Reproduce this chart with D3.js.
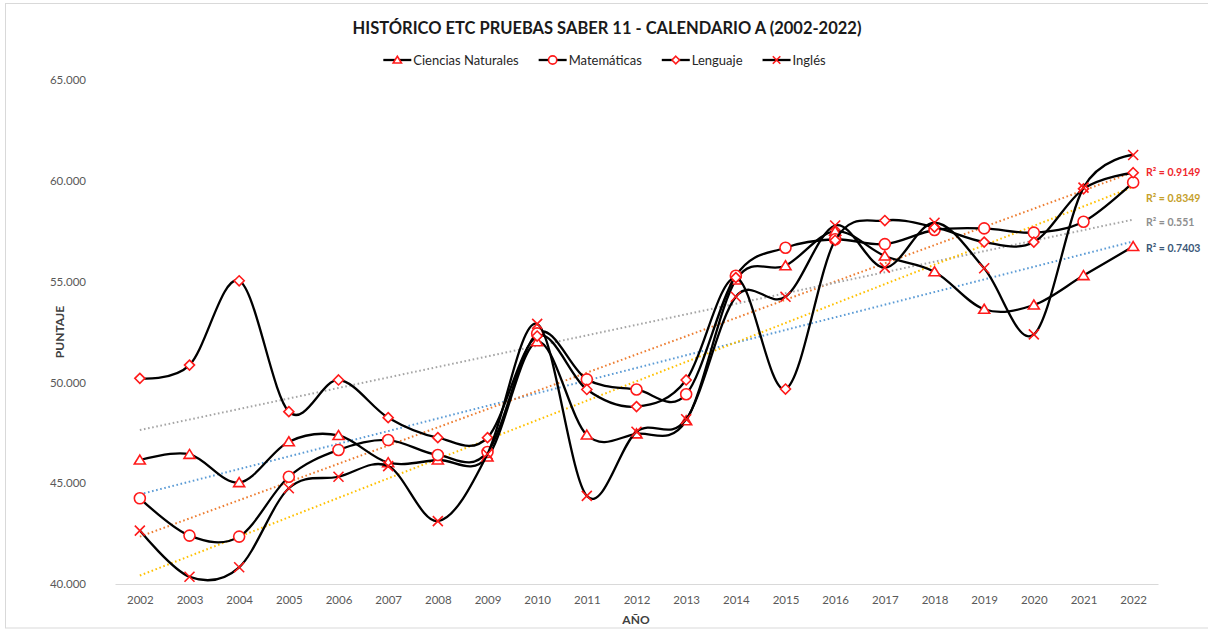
<!DOCTYPE html>
<html><head><meta charset="utf-8">
<script src="https://cdn.jsdelivr.net/npm/d3@7"></script>
<style>
html,body{margin:0;padding:0;background:#fff;}
svg{display:block;font-family:Lato,"Open Sans",sans-serif;}
</style></head>
<body>
<svg id="chart" width="1208" height="632"></svg>
<script>
// ---------- DATA ----------
const years = ["2002","2003","2004","2005","2006","2007","2008","2009","2010","2011","2012","2013","2014","2015","2016","2017","2018","2019","2020","2021","2022"];
const seriesNames = ["Ciencias Naturales","Matemáticas","Lenguaje","Inglés"];
const cienciasNaturales = [46.15,46.43,45.03,47.06,47.37,46.02,46.15,46.30,52.02,47.39,47.45,48.10,55.08,55.79,57.50,56.27,55.49,53.63,53.84,55.30,56.74];
const matematicas       = [44.25,42.40,42.35,45.32,46.65,47.14,46.40,46.55,52.43,50.15,49.65,49.41,55.29,56.68,57.10,56.86,57.56,57.64,57.43,57.97,59.92];
const lenguaje          = [50.20,50.86,55.04,48.55,50.12,48.25,47.26,47.26,52.30,49.65,48.80,50.12,55.20,49.67,57.05,58.03,57.70,56.96,56.96,59.60,60.40];
const ingles            = [42.65,40.36,40.83,44.75,45.32,45.85,43.12,46.45,52.90,44.37,47.55,48.17,54.25,54.25,57.78,55.69,57.92,55.66,52.38,59.66,61.28];
const r2Labels = ["R² = 0.7403","R² = 0.9149","R² = 0.551","R² = 0.8349"];
const yTickValues = [40,45,50,55,60,65];
const yTickLabels = ["40.000","45.000","50.000","55.000","60.000","65.000"];
const titleText = "HISTÓRICO ETC PRUEBAS SABER 11 - CALENDARIO A (2002-2022)";
const xTitle = "AÑO";
const yTitle = "PUNTAJE";

// ---------- STYLE / LAYOUT ----------
const seriesValues = [cienciasNaturales, matematicas, lenguaje, ingles];
const markerTypes = ["triangle","circle","diamond","cross"];
const trendColors = ["#5B9BD5","#ED7D31","#A5A5A5","#FFC000"];
const r2Colors = ["#3B5878","#F0282D","#8E8E8E","#C5A02A"];
const r2LabelY = [249, 173, 223, 199];
const markerRed = "#FF1A1A";

const svg = d3.select("#chart");
svg.append("rect").attr("x",5.5).attr("y",3.5).attr("width",1210).attr("height",624.5)
  .attr("fill","#fff").attr("stroke","#D9D9D9").attr("stroke-width",1);

const x = d3.scalePoint().domain(years).range([115,1158]).padding(0.5);
const y = d3.scaleLinear().domain([40,65]).range([584,80]);

// Title
svg.append("text").attr("x",607).attr("y",34).attr("text-anchor","middle")
  .attr("font-size",16.5).attr("font-weight","bold").attr("fill","#1a1a1a").text(titleText);

// Axes
const xAxis = d3.axisBottom(x).tickSize(0).tickPadding(12);
const gx = svg.append("g").attr("transform","translate(0,584)").call(xAxis);
gx.select(".domain").attr("stroke","#D9D9D9").attr("stroke-width",1.2);
gx.selectAll("text").attr("font-size",11.5).attr("fill","#595959").attr("font-family","Lato");

const yAxis = d3.axisLeft(y).tickValues(yTickValues).tickFormat((d,i)=>yTickLabels[i]).tickSize(0).tickPadding(0);
const gy = svg.append("g").attr("transform","translate(86,0)").call(yAxis);
gy.select(".domain").remove();
gy.selectAll("text").attr("font-size",11.5).attr("fill","#595959").attr("font-family","Lato");

svg.append("text").attr("x",636).attr("y",624).attr("text-anchor","middle")
  .attr("font-size",12).attr("font-weight","bold").attr("fill","#404040").text(xTitle);
svg.append("text").attr("transform","translate(64,332) rotate(-90)").attr("text-anchor","middle")
  .attr("font-size",12).attr("font-weight","bold").attr("fill","#404040").text(yTitle);

// Marker drawing
function drawMarker(g, type, cx, cy, s) {
  if (type === "circle") {
    g.append("circle").attr("cx",cx).attr("cy",cy).attr("r",s*0.55)
      .attr("fill","#fff").attr("stroke",markerRed).attr("stroke-width",1.6);
  } else if (type === "triangle") {
    const h = s*0.9, w = s*0.55;
    g.append("path").attr("d",`M${cx},${cy-h*0.55}L${cx+w},${cy+h*0.45}L${cx-w},${cy+h*0.45}Z`)
      .attr("fill","#fff").attr("stroke",markerRed).attr("stroke-width",1.6);
  } else if (type === "diamond") {
    const r = s*0.5;
    g.append("path").attr("d",`M${cx},${cy-r}L${cx+r},${cy}L${cx},${cy+r}L${cx-r},${cy}Z`)
      .attr("fill","#fff").attr("stroke",markerRed).attr("stroke-width",1.6);
  } else {
    const r = s*0.5;
    g.append("path").attr("d",`M${cx-r},${cy-r}L${cx+r},${cy+r}M${cx+r},${cy-r}L${cx-r},${cy+r}`)
      .attr("fill","none").attr("stroke",markerRed).attr("stroke-width",1.6);
  }
}

// Trendlines (least squares on index)
const trendG = svg.append("g");
seriesValues.forEach((vals,si)=>{
  const n = vals.length;
  const xs = d3.range(1,n+1);
  const mx = d3.mean(xs), my = d3.mean(vals);
  let sxy=0,sxx=0;
  xs.forEach((xv,i)=>{ sxy += (xv-mx)*(vals[i]-my); sxx += (xv-mx)*(xv-mx); });
  const b = sxy/sxx, a = my - b*mx;
  const pts = [[years[0], a+b*1],[years[n-1], a+b*n]];
  trendG.append("path")
    .attr("d", d3.line().x(d=>x(d[0])).y(d=>y(d[1]))(pts))
    .attr("fill","none").attr("stroke",trendColors[si]).attr("stroke-width",2)
    .attr("stroke-dasharray","1.6,2.6");
});

// Series
const line = d3.line().x((d,i)=>x(years[i])).y(d=>y(d)).curve(d3.curveCardinal.tension(0));
seriesValues.forEach((vals,si)=>{
  const g = svg.append("g");
  g.append("path").attr("d", line(vals)).attr("fill","none")
    .attr("stroke","#000").attr("stroke-width",2.3);
  vals.forEach((v,i)=> drawMarker(g, markerTypes[si], x(years[i]), y(v), 10));
});

// R² labels
seriesValues.forEach((vals,si)=>{
  svg.append("text").attr("x",1146).attr("y",r2LabelY[si]).attr("dominant-baseline","middle")
    .attr("font-size",10.5).attr("font-weight","bold").attr("fill",r2Colors[si]).text(r2Labels[si]);
});

// Legend
const legend = svg.append("g");
let cursor = 0;
seriesNames.forEach((name,si)=>{
  const item = legend.append("g").attr("transform",`translate(${cursor},0)`);
  item.append("line").attr("x1",0).attr("x2",28).attr("y1",0).attr("y2",0)
    .attr("stroke","#000").attr("stroke-width",2.3);
  drawMarker(item, markerTypes[si], 14, 0, 7.5);
  const t = item.append("text").attr("x",30).attr("y",0).attr("dominant-baseline","central")
    .attr("font-size",13).attr("fill","#262626").text(name);
  cursor += 30 + t.node().getComputedTextLength() + 20;
});
const legW = cursor - 20;
legend.attr("transform",`translate(${604.5 - legW/2},60)`);
</script>
</body></html>
